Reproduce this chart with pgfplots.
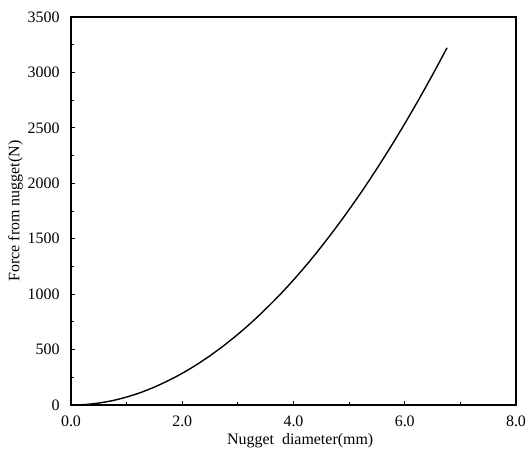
\documentclass[border=0pt]{standalone}
\usepackage{pgfplots}
\pgfplotsset{compat=1.18}
\usepackage{fontspec}
\setmainfont{Liberation Serif}
\begin{document}
\begin{tikzpicture}
\begin{axis}[
  scale only axis,
  width=445bp, height=388bp,
  xmin=0, xmax=8, ymin=0, ymax=3500,
  xtick={0,2,4,6,8},
  xticklabels={0.0,2.0,4.0,6.0,8.0},
  ytick={0,500,1000,1500,2000,2500,3000,3500},
  minor x tick num=1,
  minor y tick num=1,
  tick align=inside,
  xtick pos=bottom, ytick pos=left,
  major tick length=4bp, minor tick length=3bp,
  axis line style={line width=1.2pt},
  tick style={line width=0.9pt, black},
  every tick label/.append style={font=\fontsize{16}{19}\selectfont},
  /pgf/number format/assume math mode=true,
  yticklabel style={/pgf/number format/1000 sep={}, xshift=-8bp},
  xticklabel style={yshift=-7bp},
  xlabel={Nugget\ \ diameter(mm)},
  ylabel={Force from nugget(N)},
  label style={font=\fontsize{16}{19}\selectfont},
  xlabel style={at={(axis description cs:0.515,-0.092)}, anchor=center},
  ylabel style={at={(axis description cs:-0.125,0.5)}, anchor=center},
]
\addplot[black, line width=1.4pt, smooth] coordinates {
(0,0) (0.25,4) (0.5,18) (0.75,40) (1.0,72) (1.25,112) (1.5,162) (1.75,220)
(2.0,286) (2.25,361) (2.5,445) (2.75,537) (3.0,638) (3.25,747) (3.5,866)
(3.75,992) (4.0,1128) (4.25,1273) (4.5,1428) (4.75,1591) (5.0,1763)
(5.25,1943) (5.5,2133) (5.75,2331) (6.0,2538) (6.25,2754) (6.5,2979) (6.76,3222)
};
\end{axis}
\pgfresetboundingbox
\path ([shift={(-71bp,-50bp)}]current axis.south west) rectangle ([shift={(12bp,17bp)}]current axis.north east);
\end{tikzpicture}
\end{document}
